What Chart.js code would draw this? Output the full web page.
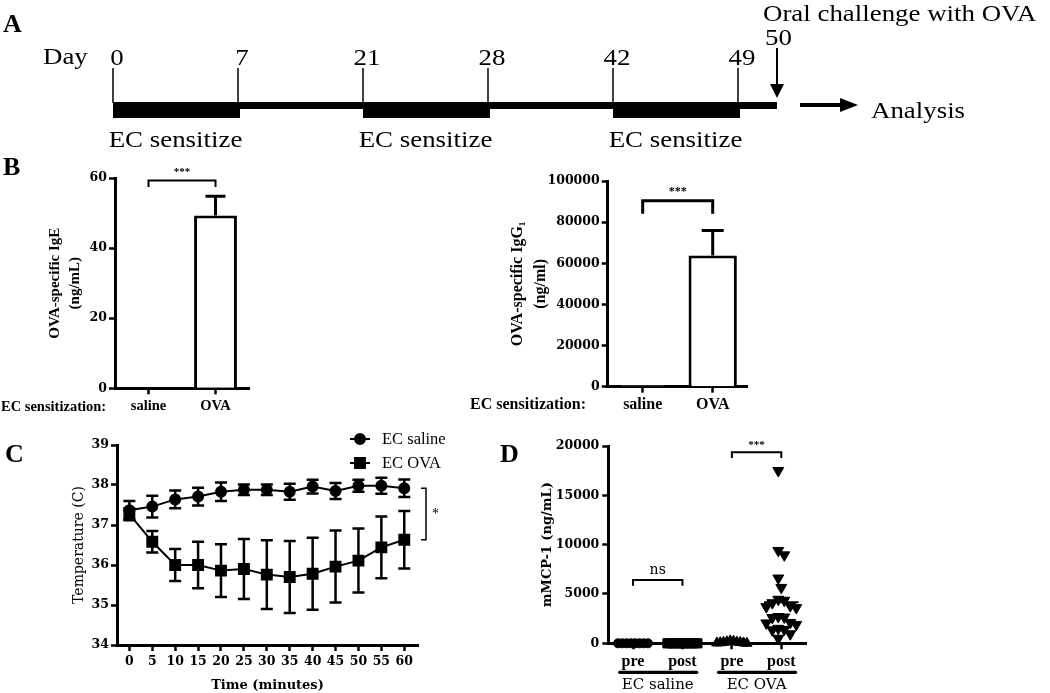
<!DOCTYPE html>
<html>
<head>
<meta charset="utf-8">
<script src="https://cdn.jsdelivr.net/npm/chart.js@4.4.1/dist/chart.umd.min.js"></script>
<style>
html, body { margin:0; padding:0; background:#ffffff; }
body { position:relative; width:1050px; height:693px; overflow:hidden; }
canvas { position:absolute; }
</style>
</head>
<body>
<canvas id="chartA" width="1050" height="150" style="left:0px;top:0px;width:1050px;height:150px"></canvas>
<canvas id="chartB1" width="260" height="290" style="left:0px;top:140px;width:260px;height:290px"></canvas>
<canvas id="chartB2" width="390" height="290" style="left:380px;top:140px;width:390px;height:290px"></canvas>
<canvas id="chartC" width="470" height="263" style="left:0px;top:430px;width:470px;height:263px"></canvas>
<canvas id="chartD" width="420" height="263" style="left:480px;top:430px;width:420px;height:263px"></canvas>
<script>
// ---------------- DATA ----------------
// Panel A: protocol timeline
const timelineDays = [0, 7, 21, 28, 42, 49];
const sensitizeWindows = [[0, 7], [21, 28], [42, 49]];
const sensitizeLabel = 'EC sensitize';
const challengeDay = 50;
const challengeLabel = 'Oral challenge with OVA';
const analysisLabel = 'Analysis';

// Panel B: OVA-specific antibodies
const sensitization = ['saline', 'OVA'];
const igeMean = [0, 49.3];
const igeSem = [0, 5.5];
const igg1Mean = [700, 63800];
const igg1Sem = [0, 12100];

// Panel C: core temperature after challenge
const timeMinutes = [0, 5, 10, 15, 20, 25, 30, 35, 40, 45, 50, 55, 60];
const tempSaline    = [37.37, 37.46, 37.64, 37.71, 37.83, 37.88, 37.88, 37.83, 37.96, 37.85, 37.98, 37.98, 37.92];
const tempSalineSem = [0.23, 0.27, 0.22, 0.22, 0.23, 0.13, 0.13, 0.20, 0.17, 0.20, 0.15, 0.20, 0.22];
const tempOva       = [37.27, 36.58, 36.00, 36.00, 35.86, 35.90, 35.76, 35.70, 35.78, 35.96, 36.11, 36.44, 36.63];
const tempOvaSem    = [0.15, 0.27, 0.40, 0.58, 0.66, 0.75, 0.86, 0.90, 0.90, 0.90, 0.80, 0.77, 0.72];

// Panel D: serum mMCP-1
const mmcpGroups = ['pre', 'post', 'pre', 'post'];
const mmcpTreatments = ['EC saline', 'EC OVA'];
const mmcpSalinePre  = [0, 0, 0, 0, 0, 0, 0, 0];
const mmcpSalinePost = [0, 0, 0, 0, 0, 0, 0, 0, 0, 0];
const mmcpOvaPre     = [0, 60, 120, 30, 200, 90, 150, 250, 40, 100];
const mmcpOvaPost    = [17500, 9400, 8950, 6600, 5650, 4450, 4350, 4100, 3800, 3700, 3600,
                        2700, 2650, 2600, 2100, 2050, 1900, 1500, 1400, 1350, 950, 500];

// ---------------- SETUP ----------------
Chart.defaults.font.family = "'Liberation Serif', serif";
Chart.defaults.color = '#000';
Chart.defaults.animation = false;
Chart.defaults.responsive = false;
Chart.defaults.plugins.legend.display = false;
Chart.defaults.plugins.tooltip.enabled = false;

const NUM_FONT = { family: "'DejaVu Serif'", size: 12.5, weight: 'bold' };

function axisBase(extra) {
  return Object.assign({
    grid: { drawOnChartArea: false, drawTicks: true, tickLength: 6, tickWidth: 2.5, tickColor: '#000', offset: false },
    border: { display: true, color: '#000', width: 3 }
  }, extra);
}

function decor(items) {
  return {
    id: 'decor',
    afterDraw(chart) {
      const ctx = chart.ctx;
      items.forEach(t => {
        ctx.save();
        ctx.font = t.font;
        ctx.fillStyle = '#000';
        ctx.textAlign = t.align || 'left';
        ctx.textBaseline = 'alphabetic';
        ctx.translate(t.x, t.y);
        if (t.sx) ctx.scale(t.sx, 1);
        ctx.fillText(t.text, 0, 0);
        ctx.restore();
      });
    }
  };
}

const errorBarPlugin = {
  id: 'errorBars',
  afterDatasetsDraw(chart) {
    const ctx = chart.ctx, yS = chart.scales.y;
    chart.data.datasets.forEach((ds, di) => {
      if (!ds.errorBars) return;
      const meta = chart.getDatasetMeta(di);
      meta.data.forEach((el, i) => {
        const err = ds.errorBars[i];
        if (!err) return;
        const raw = ds.data[i];
        const val = typeof raw === 'object' ? raw.y : raw;
        const x = el.x;
        const yTop = yS.getPixelForValue(val + err);
        const yBot = ds.errorBoth ? yS.getPixelForValue(val - err) : el.y;
        const cap = ds.capHalf || 10;
        ctx.save();
        ctx.strokeStyle = '#000';
        ctx.lineWidth = ds.errorWidth || 3;
        ctx.beginPath();
        ctx.moveTo(x, yBot); ctx.lineTo(x, yTop);
        ctx.moveTo(x - cap, yTop); ctx.lineTo(x + cap, yTop);
        if (ds.errorBoth) { ctx.moveTo(x - cap, yBot); ctx.lineTo(x + cap, yBot); }
        ctx.stroke();
        ctx.restore();
      });
    });
  }
};

function brackets(items) {
  return {
    id: 'brackets',
    afterDraw(chart) {
      const ctx = chart.ctx, xS = chart.scales.x, yS = chart.scales.y;
      items.forEach(b => {
        const x1 = xS.getPixelForValue(b.from), x2 = xS.getPixelForValue(b.to);
        const yt = yS.getPixelForValue(b.y), yf = yS.getPixelForValue(b.foot);
        ctx.save();
        ctx.strokeStyle = '#000';
        ctx.lineWidth = b.width || 2;
        ctx.beginPath();
        ctx.moveTo(x1, yf); ctx.lineTo(x1, yt); ctx.lineTo(x2, yt); ctx.lineTo(x2, yf);
        ctx.stroke();
        ctx.font = b.font;
        ctx.fillStyle = '#000';
        ctx.textAlign = 'center';
        ctx.textBaseline = 'alphabetic';
        ctx.fillText(b.text, (x1 + x2) / 2, yt - b.gap);
        ctx.restore();
      });
    }
  };
}

// ---------------- PANEL A ----------------
const timelinePlugin = {
  id: 'timeline',
  afterDraw(chart) {
    const ctx = chart.ctx, xs = chart.scales.x;
    const px = d => xs.getPixelForValue(timelineDays.indexOf(d));
    const chX = px(timelineDays[timelineDays.length - 1]) + 39 * (challengeDay - timelineDays[timelineDays.length - 1]);
    const SX = 1.12;
    const txt = (s, x, y, align) => {
      ctx.save();
      ctx.translate(x, y); ctx.scale(SX, 1);
      ctx.textAlign = align || 'left';
      ctx.fillText(s, 0, 0);
      ctx.restore();
    };
    ctx.save();
    ctx.fillStyle = '#000'; ctx.strokeStyle = '#000';
    ctx.textBaseline = 'alphabetic';
    ctx.font = "bold 26px 'Liberation Serif'";
    ctx.fillText('A', 3, 32);
    ctx.font = "24px 'Liberation Serif'";
    txt('Day', 43, 64);
    timelineDays.forEach(d => {
      txt(String(d), px(d) + 4, 65, 'center');
      ctx.lineWidth = 1.5;
      ctx.beginPath(); ctx.moveTo(px(d), 68); ctx.lineTo(px(d), 103); ctx.stroke();
    });
    // thin bar over the whole protocol
    ctx.fillRect(px(timelineDays[0]), 102, chX - px(timelineDays[0]), 7);
    // thick sensitization windows
    sensitizeWindows.forEach(([a, b]) => {
      ctx.fillRect(px(a), 102, px(b) - px(a) + 2, 16);
      txt(sensitizeLabel, (px(a) + px(b)) / 2, 147, 'center');
    });
    // challenge
    txt(challengeLabel, chX - 14, 21, 'left');
    txt(String(challengeDay), chX - 12, 45, 'left');
    ctx.lineWidth = 2;
    ctx.beginPath(); ctx.moveTo(chX, 48); ctx.lineTo(chX, 88); ctx.stroke();
    ctx.beginPath(); ctx.moveTo(chX - 7, 84); ctx.lineTo(chX + 7, 84); ctx.lineTo(chX, 98); ctx.closePath(); ctx.fill();
    // analysis arrow
    ctx.lineWidth = 4;
    ctx.beginPath(); ctx.moveTo(chX + 23, 105); ctx.lineTo(chX + 66, 105); ctx.stroke();
    ctx.beginPath(); ctx.moveTo(chX + 63, 98); ctx.lineTo(chX + 81, 105); ctx.lineTo(chX + 63, 112); ctx.closePath(); ctx.fill();
    txt(analysisLabel, chX + 94, 118, 'left');
    ctx.restore();
  }
};

new Chart(document.getElementById('chartA'), {
  type: 'line',
  data: { labels: timelineDays.map(String), datasets: [] },
  options: {
    layout: { padding: { left: 113, right: 312, top: 0, bottom: 0 } },
    scales: {
      x: { type: 'category', display: false, offset: false },
      y: { display: false }
    }
  },
  plugins: [timelinePlugin]
});

// ---------------- PANEL B1 (IgE) ----------------
new Chart(document.getElementById('chartB1'), {
  type: 'bar',
  data: {
    labels: sensitization,
    datasets: [{
      data: igeMean, errorBars: igeSem, capHalf: 10, errorWidth: 3,
      backgroundColor: '#ffffff', borderColor: '#000', borderWidth: 3,
      barPercentage: 0.64, categoryPercentage: 1
    }]
  },
  options: {
    layout: { padding: { left: 0, top: 38, right: 11, bottom: 0 } },
    scales: {
      x: axisBase({
        ticks: { font: { size: 14.5, weight: 'bold' }, padding: 3.5 },
        afterFit: s => { s.height = 41.7; }
      }),
      y: axisBase({
        min: 0, max: 60,
        ticks: { stepSize: 20, font: NUM_FONT, padding: 2 },
        title: { display: true, text: ['OVA-specific IgE', '(ng/mL)'],
                 font: { size: 15, weight: 'bold', lineHeight: 1.33 }, padding: { top: 45, bottom: 0 } },
        afterFit: s => { s.width = 115; }
      })
    }
  },
  plugins: [errorBarPlugin,
    brackets([{ from: 0, to: 1, y: 59.3, foot: 57.4, text: '***', gap: 5, width: 2, font: "bold 11px 'Liberation Serif'" }]),
    decor([
      { text: 'B', x: 3, y: 35, font: "bold 26px 'Liberation Serif'" },
      { text: 'EC sensitization:', x: 1, y: 270.7, font: "bold 14.5px 'Liberation Serif'" }
    ])]
});

// ---------------- PANEL B2 (IgG1) ----------------
new Chart(document.getElementById('chartB2'), {
  type: 'bar',
  data: {
    labels: sensitization,
    datasets: [{
      data: igg1Mean, errorBars: igg1Sem, capHalf: 11, errorWidth: 3,
      backgroundColor: '#ffffff', borderColor: '#000', borderWidth: 3,
      barPercentage: 0.69, categoryPercentage: 1
    }]
  },
  options: {
    layout: { padding: { left: 0, top: 41, right: 22.3, bottom: 0 } },
    scales: {
      x: axisBase({
        ticks: { font: { size: 16, weight: 'bold' }, padding: 2.5 },
        afterFit: s => { s.height = 43.3; }
      }),
      y: axisBase({
        min: 0, max: 100000,
        ticks: { stepSize: 20000, font: NUM_FONT, padding: 2, callback: v => String(v) },
        title: { display: true, text: ['OVA-specific IgG\u2081', '(ng/ml)'],
                 font: { size: 16, weight: 'bold', lineHeight: 1.4 }, padding: { top: 127, bottom: 0 } },
        afterFit: s => { s.width = 227.7; }
      })
    }
  },
  plugins: [errorBarPlugin,
    brackets([{ from: 0, to: 1, y: 90360, foot: 84030, text: '***', gap: 6, width: 3, font: "bold 12px 'Liberation Serif'" }]),
    decor([
      { text: 'EC sensitization:', x: 90, y: 269, font: "bold 16px 'Liberation Serif'" }
    ])]
});

// ---------------- PANEL C (temperature) ----------------
const legendC = {
  id: 'legendC',
  afterDraw(chart) {
    const ctx = chart.ctx;
    const ys = [9, 33];
    chart.data.datasets.forEach((ds, i) => {
      const y = ys[i];
      ctx.save();
      ctx.strokeStyle = '#000'; ctx.fillStyle = '#000'; ctx.lineWidth = 2;
      ctx.beginPath(); ctx.moveTo(350, y); ctx.lineTo(370, y); ctx.stroke();
      Chart.helpers.drawPoint(ctx, { pointStyle: ds.pointStyle, radius: ds.pointRadius, rotation: 0, borderWidth: 1 }, 360, y);
      ctx.font = "16.5px 'Liberation Serif'";
      ctx.textBaseline = 'alphabetic';
      ctx.fillText(ds.label, 382, y + 4.5);
      ctx.restore();
    });
    // significance bracket between the two curves at the last time point
    const yS = chart.scales.y, ca = chart.chartArea;
    const yA = yS.getPixelForValue(tempSaline[tempSaline.length - 1]);
    const yB = yS.getPixelForValue(tempOva[tempOva.length - 1]);
    const bx = ca.right + 8;
    ctx.save();
    ctx.lineWidth = 1.5; ctx.strokeStyle = '#000';
    ctx.beginPath();
    ctx.moveTo(bx - 5, yA); ctx.lineTo(bx, yA); ctx.lineTo(bx, yB); ctx.lineTo(bx - 5, yB);
    ctx.stroke();
    ctx.font = "14px 'Liberation Serif'"; ctx.fillStyle = '#000';
    ctx.fillText('*', bx + 6, (yA + yB) / 2 + 4);
    ctx.restore();
  }
};

new Chart(document.getElementById('chartC'), {
  type: 'line',
  data: {
    datasets: [
      { label: 'EC saline', data: timeMinutes.map((t, i) => ({ x: t, y: tempSaline[i] })),
        errorBars: tempSalineSem, errorBoth: true, capHalf: 6, errorWidth: 2.5,
        borderColor: '#000', borderWidth: 2, pointStyle: 'circle', pointRadius: 5,
        pointBackgroundColor: '#000', pointBorderColor: '#000', clip: false },
      { label: 'EC OVA', data: timeMinutes.map((t, i) => ({ x: t, y: tempOva[i] })),
        errorBars: tempOvaSem, errorBoth: true, capHalf: 6, errorWidth: 2.5,
        borderColor: '#000', borderWidth: 2, pointStyle: 'rect', pointRadius: 7,
        pointBackgroundColor: '#000', pointBorderColor: '#000', clip: false }
    ]
  },
  options: {
    layout: { padding: { left: 0, top: 15, right: 52, bottom: 0 } },
    scales: {
      x: axisBase({
        type: 'linear', min: -2.7, max: 63,
        afterBuildTicks: s => { s.ticks = timeMinutes.map(v => ({ value: v })); },
        ticks: { font: NUM_FONT, padding: 3, callback: v => String(v) },
        title: { display: true, text: 'Time (minutes)', font: { family: "'DejaVu Serif'", size: 13, weight: 'bold' }, padding: { top: 0, bottom: 0 } },
        afterFit: s => { s.height = 48; }
      }),
      y: axisBase({
        min: 34, max: 39,
        ticks: { stepSize: 1, font: NUM_FONT, padding: 2 },
        title: { display: true, text: 'Temperature (C)', font: { family: "'DejaVu Serif'", size: 14 }, padding: { top: 71, bottom: 0 } },
        afterFit: s => { s.width = 117; }
      })
    }
  },
  plugins: [errorBarPlugin, legendC,
    decor([{ text: 'C', x: 5, y: 32, font: "bold 26px 'Liberation Serif'" }])]
});

// ---------------- PANEL D (mMCP-1) ----------------
// deterministic dot-plot (beeswarm) layout of points that share similar values
function swarm(values, pxPerUnitY, pxPerUnitX, d, maxHalf) {
  const order = values.map((v, i) => i).sort((a, b) => values[b] - values[a]);
  const placed = [], off = new Array(values.length).fill(0);
  order.forEach(i => {
    const y = values[i] * pxPerUnitY;
    for (let k = 0; k < 80; k++) {
      const c = k === 0 ? 0 : (k % 2 ? 1 : -1) * Math.ceil(k / 2) * d / 2;
      if (placed.every(p => Math.hypot(p.x - c, p.y - y) >= d) || k === 79) {
        off[i] = c; placed.push({ x: c, y }); break;
      }
    }
  });
  const mx = Math.max(...off), mn = Math.min(...off);
  const half = Math.max(Math.abs(mx), Math.abs(mn));
  let res = off;
  if (half > maxHalf) {
    const center = (mx + mn) / 2, s = maxHalf / ((mx - mn) / 2);
    res = off.map(o => (o - center) * s);
  }
  return res.map(o => o / pxPerUnitX);
}
const PX_Y = 49.3 / 5000, PX_X = 49.5;
function groupPoints(values, g) {
  const offs = swarm(values, PX_Y, PX_X, 9.5, 15);
  return values.map((v, i) => ({ x: g + offs[i], y: v }));
}

const meanLines = {
  id: 'meanLines',
  afterDatasetsDraw(chart) {
    const ctx = chart.ctx, xS = chart.scales.x, yS = chart.scales.y;
    chart.data.datasets.forEach(ds => {
      const ys = ds.data.map(p => p.y);
      const m = ys.reduce((a, b) => a + b, 0) / ys.length;
      ctx.save();
      ctx.strokeStyle = '#000'; ctx.lineWidth = 2;
      ctx.beginPath();
      ctx.moveTo(xS.getPixelForValue(ds.group - 0.35), yS.getPixelForValue(m));
      ctx.lineTo(xS.getPixelForValue(ds.group + 0.35), yS.getPixelForValue(m));
      ctx.stroke();
      ctx.restore();
    });
  }
};

const groupLabelsD = {
  id: 'groupLabelsD',
  afterDraw(chart) {
    const ctx = chart.ctx, xS = chart.scales.x;
    mmcpTreatments.forEach((name, t) => {
      const cx = xS.getPixelForValue(t * 2 + 0.5);
      ctx.save();
      ctx.strokeStyle = '#000'; ctx.lineWidth = 3.2; ctx.lineCap = 'round';
      ctx.beginPath(); ctx.moveTo(cx - 38, 242.3); ctx.lineTo(cx + 39, 242.3); ctx.stroke();
      ctx.font = "15px 'DejaVu Serif'"; ctx.fillStyle = '#000';
      ctx.textAlign = 'center'; ctx.textBaseline = 'alphabetic';
      ctx.fillText(name, cx, 259);
      ctx.restore();
    });
  }
};

new Chart(document.getElementById('chartD'), {
  type: 'scatter',
  data: {
    datasets: [
      { group: 0, data: groupPoints(mmcpSalinePre, 0), pointStyle: 'circle', pointRadius: 4.5,
        backgroundColor: '#000', borderColor: '#000', clip: false },
      { group: 1, data: groupPoints(mmcpSalinePost, 1), pointStyle: 'rect', pointRadius: 6.5,
        backgroundColor: '#000', borderColor: '#000', clip: false },
      { group: 2, data: groupPoints(mmcpOvaPre, 2), pointStyle: 'triangle', pointRadius: 6,
        backgroundColor: '#000', borderColor: '#000', clip: false },
      { group: 3, data: groupPoints(mmcpOvaPost, 3), pointStyle: 'triangle', pointRotation: 180, pointRadius: 6.3,
        backgroundColor: '#000', borderColor: '#000', clip: false }
    ]
  },
  options: {
    layout: { padding: { left: 0, top: 16, right: 94, bottom: 0 } },
    scales: {
      x: axisBase({
        type: 'linear', min: -0.5, max: 3.5,
        afterBuildTicks: s => { s.ticks = mmcpGroups.map((g, i) => ({ value: i })); },
        ticks: { font: { size: 16, weight: 'bold' }, padding: 3, callback: v => mmcpGroups[v] },
        afterFit: s => { s.height = 49.7; }
      }),
      y: axisBase({
        min: 0, max: 20000,
        ticks: { stepSize: 5000, font: NUM_FONT, padding: 3, callback: v => String(v) },
        title: { display: true, text: 'mMCP-1 (ng/mL)', font: { family: "'DejaVu Serif'", size: 13, weight: 'bold' }, padding: { top: 60, bottom: 0 } },
        afterFit: s => { s.width = 128.3; }
      })
    }
  },
  plugins: [meanLines, groupLabelsD,
    brackets([
      { from: 0, to: 1, y: 6420, foot: 5840, text: 'ns', gap: 6, width: 2, font: "14px 'DejaVu Serif'" },
      { from: 2, to: 3, y: 19370, foot: 18790, text: '***', gap: 4, width: 2, font: "bold 11px 'Liberation Serif'" }
    ]),
    decor([{ text: 'D', x: 20, y: 32, font: "bold 26px 'Liberation Serif'" }])]
});
</script>
</body>
</html>
